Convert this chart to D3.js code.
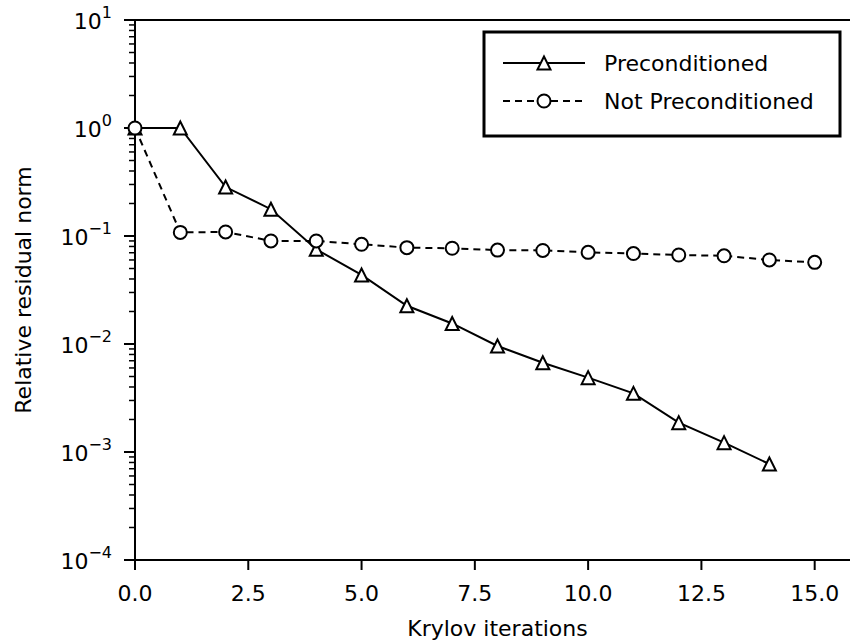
<!DOCTYPE html>
<html>
<head>
<meta charset="utf-8">
<script src="https://cdn.jsdelivr.net/npm/d3@7/dist/d3.min.js"></script>
<style>
  body { margin: 0; background: #fff; }
  svg { display: block; }
  text { font-family: "DejaVu Sans", sans-serif; fill: #000; }
</style>
</head>
<body>
<svg id="chart" width="850" height="641"></svg>
<script>
// ---- data ----
const iterPre = [0, 1, 2, 3, 4, 5, 6, 7, 8, 9, 10, 11, 12, 13, 14];
const resPre = [1.0, 1.0, 0.284, 0.177, 0.0753, 0.0436, 0.0226, 0.0155, 0.00958, 0.00671, 0.00488, 0.00349, 0.00187, 0.00122, 0.000774];
const iterNot = [0, 1, 2, 3, 4, 5, 6, 7, 8, 9, 10, 11, 12, 13, 14, 15];
const resNot = [1.0, 0.108, 0.109, 0.090, 0.090, 0.0838, 0.078, 0.077, 0.074, 0.0735, 0.0706, 0.0688, 0.0667, 0.0656, 0.060, 0.057];
const seriesNames = ["Preconditioned", "Not Preconditioned"];
const xTicks = [0, 2.5, 5, 7.5, 10, 12.5, 15];
const yExponents = [1, 0, -1, -2, -3, -4];
const xDomain = [0, 16];
const yDomain = [1e-4, 1e1];
const xLabel = "Krylov iterations";
const yLabel = "Relative residual norm";

// ---- layout ----
const svg = d3.select("#chart");
const L = 135, R = 860, T = 20, B = 560;
const x = d3.scaleLinear().domain(xDomain).range([L, R]);
const y = d3.scaleLog().domain(yDomain).range([B, T]);
const lw = 2;
const fs = 22;

// x axis ticks
const gx = svg.append("g");
gx.selectAll("line").data(xTicks).join("line")
  .attr("x1", d => x(d)).attr("x2", d => x(d))
  .attr("y1", B).attr("y2", B + 10)
  .attr("stroke", "#000").attr("stroke-width", lw);
gx.selectAll("text").data(xTicks).join("text")
  .attr("x", d => x(d)).attr("y", 601)
  .attr("text-anchor", "middle").attr("font-size", fs)
  .text(d => d3.format(".1f")(d));

// y axis ticks (major + minor)
const minor = [];
for (let e = -4; e < 1; e++) for (let k = 2; k <= 9; k++) minor.push(k * Math.pow(10, e));
const gy = svg.append("g");
gy.selectAll("line.minor").data(minor).join("line").attr("class", "minor")
  .attr("x1", L - 6).attr("x2", L)
  .attr("y1", d => y(d)).attr("y2", d => y(d))
  .attr("stroke", "#000").attr("stroke-width", 1.5);
gy.selectAll("line.major").data(yExponents).join("line").attr("class", "major")
  .attr("x1", L - 11).attr("x2", L)
  .attr("y1", d => y(Math.pow(10, d))).attr("y2", d => y(Math.pow(10, d)))
  .attr("stroke", "#000").attr("stroke-width", lw);
const yt = gy.selectAll("text").data(yExponents).join("text")
  .attr("x", 112).attr("y", d => y(Math.pow(10, d)) + 8.5)
  .attr("text-anchor", "end").attr("font-size", fs);
yt.append("tspan").text("10");
yt.append("tspan").attr("font-size", 16).attr("dy", -10.5)
  .text(d => d < 0 ? "\u2212" + Math.abs(d) : String(d));

// spines
svg.append("line").attr("x1", L).attr("x2", L).attr("y1", T).attr("y2", B)
  .attr("stroke", "#000").attr("stroke-width", lw).attr("stroke-linecap", "square");
svg.append("line").attr("x1", L).attr("x2", R).attr("y1", B).attr("y2", B)
  .attr("stroke", "#000").attr("stroke-width", lw).attr("stroke-linecap", "square");
svg.append("line").attr("x1", L).attr("x2", R).attr("y1", T).attr("y2", T)
  .attr("stroke", "#000").attr("stroke-width", lw).attr("stroke-linecap", "square");
svg.append("line").attr("x1", R).attr("x2", R).attr("y1", T).attr("y2", B)
  .attr("stroke", "#000").attr("stroke-width", lw);

// axis labels
svg.append("text").attr("x", (L + R) / 2).attr("y", 636)
  .attr("text-anchor", "middle").attr("font-size", fs).text(xLabel);
svg.append("text").attr("transform", `translate(31,${(T + B) / 2}) rotate(-90)`)
  .attr("text-anchor", "middle").attr("font-size", fs).text(yLabel);

// markers
const triPath = "M0,-6.5L-6.5,6.5L6.5,6.5Z";
function drawTri(g, cx, cy) {
  g.append("path").attr("d", triPath).attr("transform", `translate(${cx},${cy})`)
    .attr("fill", "#fff").attr("stroke", "#000").attr("stroke-width", lw)
    .attr("stroke-linejoin", "miter");
}
function drawCirc(g, cx, cy) {
  g.append("circle").attr("cx", cx).attr("cy", cy).attr("r", 6.5)
    .attr("fill", "#fff").attr("stroke", "#000").attr("stroke-width", lw);
}

const plot = svg.append("g");
const linePre = d3.line().x((d, i) => x(iterPre[i])).y(d => y(d));
const lineNot = d3.line().x((d, i) => x(iterNot[i])).y(d => y(d));

// series 1: Preconditioned
plot.append("path").attr("d", linePre(resPre)).attr("fill", "none")
  .attr("stroke", "#000").attr("stroke-width", lw);
resPre.forEach((v, i) => drawTri(plot, x(iterPre[i]), y(v)));

// series 2: Not Preconditioned
plot.append("path").attr("d", lineNot(resNot)).attr("fill", "none")
  .attr("stroke", "#000").attr("stroke-width", lw).attr("stroke-dasharray", "7,5");
resNot.forEach((v, i) => drawCirc(plot, x(iterNot[i]), y(v)));

// legend
const leg = svg.append("g");
leg.append("rect").attr("x", 484).attr("y", 32).attr("width", 356).attr("height", 104)
  .attr("fill", "#fff").attr("stroke", "#000").attr("stroke-width", 3);
const rows = [63, 101];
leg.append("line").attr("x1", 503).attr("x2", 585).attr("y1", rows[0]).attr("y2", rows[0])
  .attr("stroke", "#000").attr("stroke-width", lw);
drawTri(leg, 544, rows[0]);
leg.append("line").attr("x1", 503).attr("x2", 585).attr("y1", rows[1]).attr("y2", rows[1])
  .attr("stroke", "#000").attr("stroke-width", lw).attr("stroke-dasharray", "7,5");
drawCirc(leg, 544, rows[1]);
leg.selectAll("text").data(seriesNames).join("text")
  .attr("x", 604).attr("y", (d, i) => rows[i] + 8)
  .attr("font-size", fs).text(d => d);
</script>
</body>
</html>
